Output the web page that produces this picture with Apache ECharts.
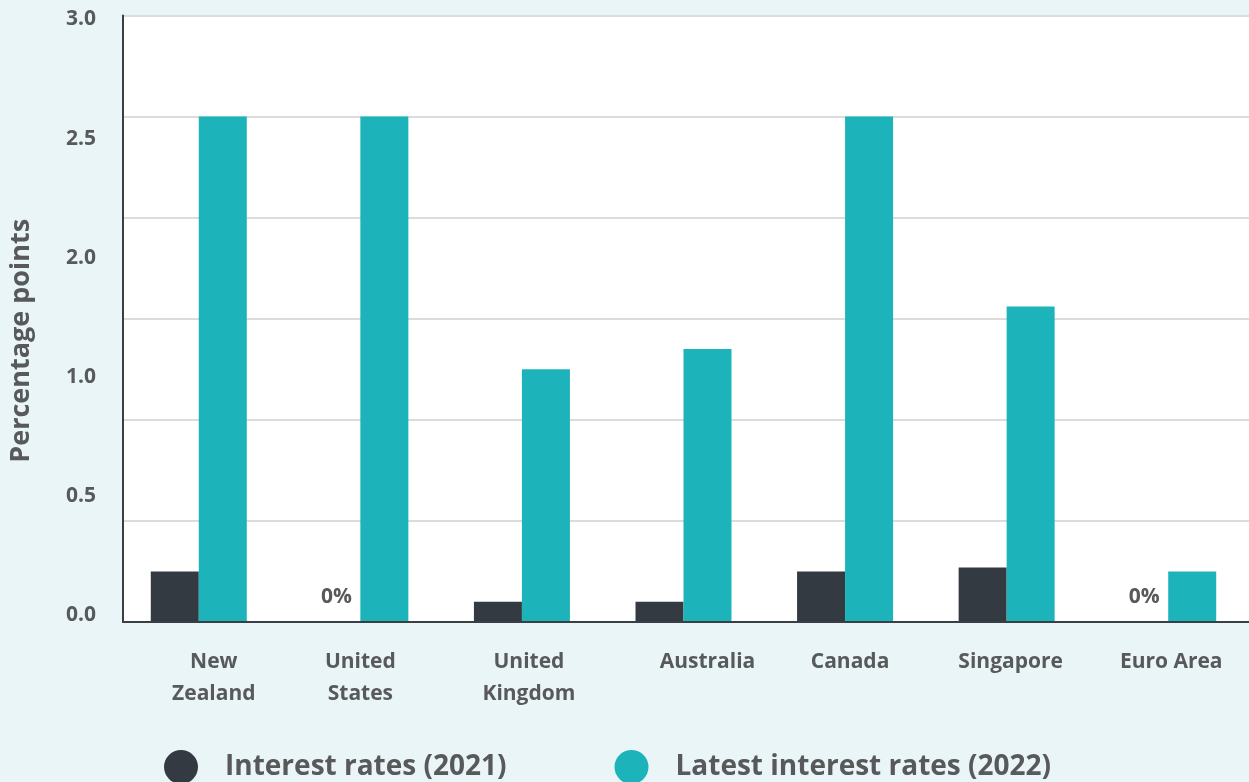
<!DOCTYPE html>
<html>
<head>
<meta charset="utf-8">
<script src="https://cdn.jsdelivr.net/npm/echarts@6/dist/echarts.min.js"></script>
<style>
  html, body { margin: 0; padding: 0; background: #eaf5f7; }
  #chart { width: 1249px; height: 782px; }
</style>
</head>
<body>
<div id="chart"></div>
<script>
const categories = ['New\nZealand', 'United\nStates', 'United\nKingdom', 'Australia', 'Canada', 'Singapore', 'Euro Area'];
const rates2021 = [0.25, 0, 0.1, 0.1, 0.25, 0.27, 0];
const rates2022 = [2.5, 2.5, 1.25, 1.35, 2.5, 1.56, 0.25];
const yTickLabels = ['0.0', '0.5', '1.0', '2.0', '2.5', '3.0'];
const seriesNames = ['Interest rates (2021)', 'Latest interest rates (2022)'];
const yAxisTitle = 'Percentage points';

const FONT = 'Open Sans';
const WEIGHT = 'bold';
const TEXT = '#58595b';
const DARK = '#343a41';
const TEAL = '#1db3bb';
const AXIS = '#3a3f45';

// horizontal nudges of category labels (style only)
const labelShift = [15, 0, 7, 24, 5, 4, 3];
const rich = {};
labelShift.forEach((s, i) => {
  rich['s' + i] = {
    fontFamily: FONT, fontSize: 21, fontWeight: WEIGHT, color: TEXT,
    lineHeight: 32, padding: [0, 0, 0, s * 2]
  };
});

const chart = echarts.init(document.getElementById('chart'), null, { renderer: 'canvas' });
chart.setOption({
  backgroundColor: '#eaf5f7',
  animation: false,
  textStyle: { fontFamily: FONT },
  grid: [
    { left: 122, right: 0, top: 15.5, bottom: 160, show: true, backgroundColor: '#ffffff', borderWidth: 0 },
    { left: 118, right: -1, top: 15.5, bottom: 160 },
    { left: 122, right: 0, top: 19.5, bottom: 167.3 }
  ],
  xAxis: [
    {
      gridIndex: 0, type: 'category', data: categories, z: 5,
      axisLine: { show: true, lineStyle: { color: AXIS, width: 2 } },
      axisTick: { show: false }, axisLabel: { show: false }, splitLine: { show: false }
    },
    {
      gridIndex: 1, type: 'category', data: categories,
      axisLine: { show: false }, axisTick: { show: false }, splitLine: { show: false },
      axisLabel: {
        interval: 0, margin: 24,
        formatter: (v, i) => v.split('\n').map(l => '{s' + i + '|' + l + '}').join('\n'),
        rich: rich
      }
    },
    { gridIndex: 2, type: 'category', data: categories, show: false }
  ],
  yAxis: [
    {
      gridIndex: 0, type: 'value', min: 0, max: 3, interval: 0.5,
      name: yAxisTitle, nameLocation: 'middle', nameRotate: 90, nameGap: 88,
      nameTextStyle: { fontFamily: FONT, fontSize: 27, fontWeight: WEIGHT, color: TEXT, padding: [0, 44, 0, 0] },
      axisLine: { show: true, lineStyle: { color: AXIS, width: 2 } },
      axisTick: { show: false }, axisLabel: { show: false },
      splitLine: { show: true, lineStyle: { color: '#dcdcdc', width: 2 } }
    },
    { gridIndex: 1, type: 'value', min: 0, max: 3, show: false },
    {
      gridIndex: 2, type: 'value', min: 0, max: 5, interval: 1,
      axisLine: { show: false }, axisTick: { show: false }, splitLine: { show: false },
      axisLabel: {
        margin: 26, fontFamily: FONT, fontSize: 21, fontWeight: WEIGHT, color: TEXT,
        formatter: v => yTickLabels[Math.round(v)]
      }
    }
  ],
  legend: {
    data: seriesNames, icon: 'circle', itemWidth: 34, itemHeight: 34,
    left: 164, top: 750, itemGap: 108, padding: 0,
    textStyle: { fontFamily: FONT, fontSize: 28, fontWeight: WEIGHT, color: TEXT, padding: [0, 0, 0, 22] }
  },
  series: [
    {
      name: seriesNames[0], type: 'bar', xAxisIndex: 1, yAxisIndex: 1,
      data: rates2021, barWidth: 48, barGap: '0%',
      itemStyle: { color: DARK },
      label: {
        show: true, position: 'top', distance: 14,
        fontFamily: FONT, fontSize: 21, fontWeight: WEIGHT, color: TEXT,
        formatter: p => (p.value === 0 ? '0%' : '')
      }
    },
    {
      name: seriesNames[1], type: 'bar', xAxisIndex: 1, yAxisIndex: 1,
      data: rates2022, barWidth: 48, barGap: '0%',
      itemStyle: { color: TEAL }
    }
  ]
});
</script>
</body>
</html>
